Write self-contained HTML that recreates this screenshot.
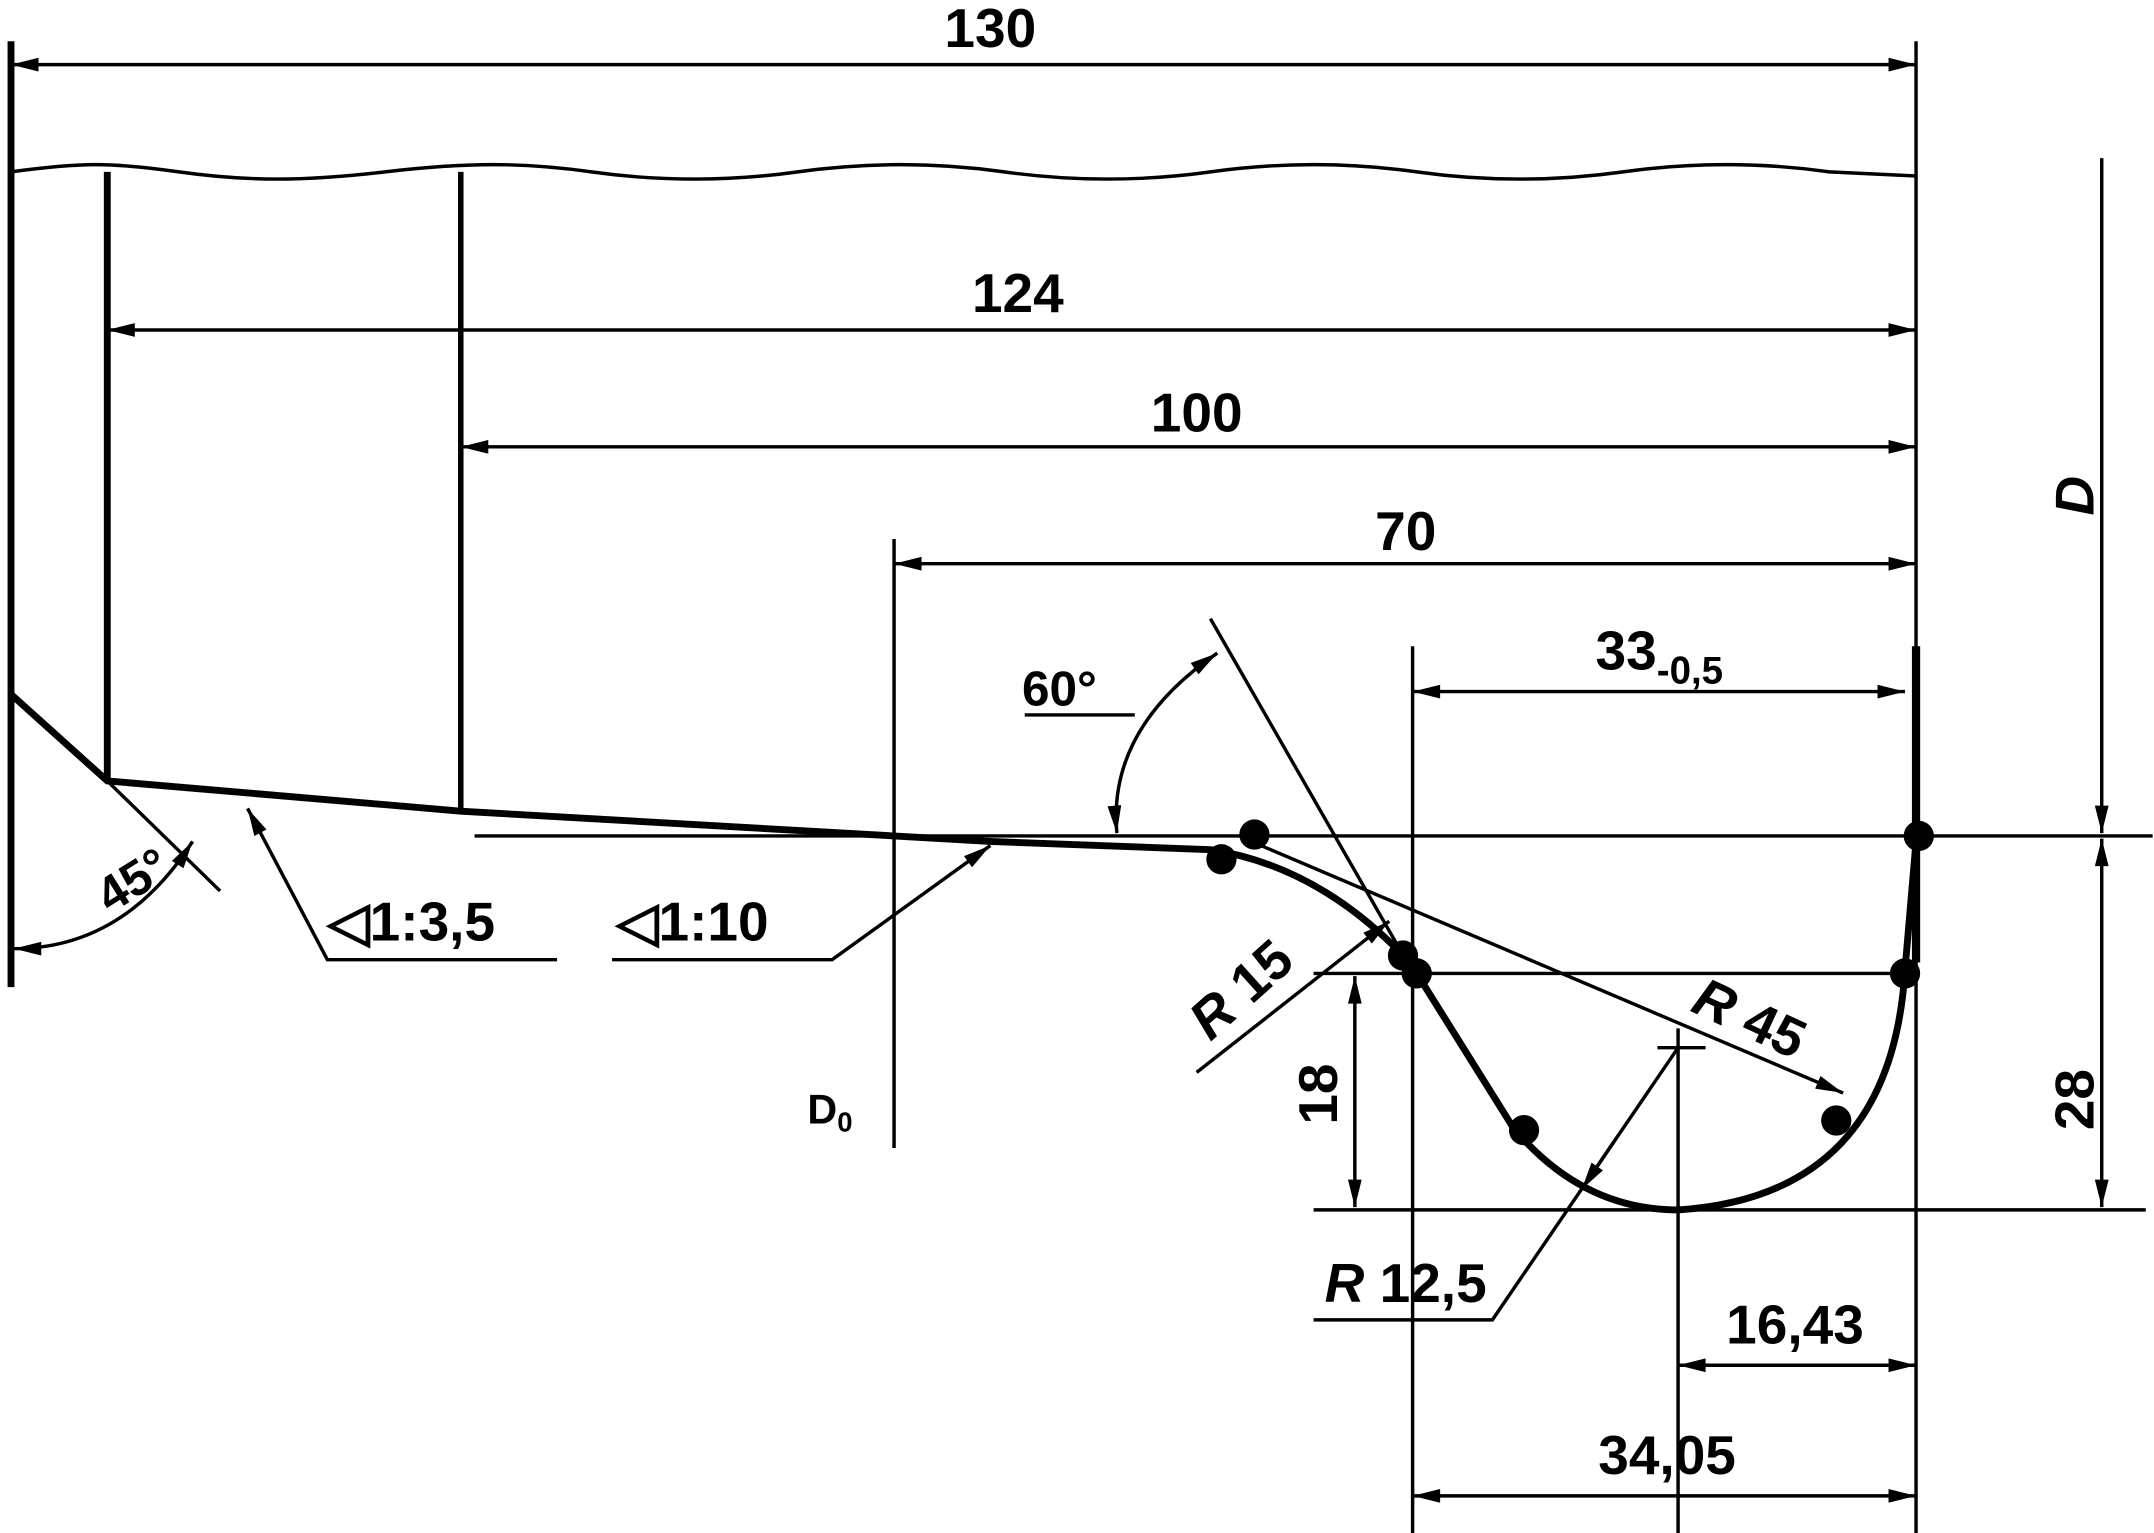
<!DOCTYPE html>
<html><head><meta charset="utf-8"><style>
html,body{margin:0;padding:0;background:#fff;}
svg{display:block;}
text{font-family:"Liberation Sans",sans-serif;font-weight:bold;fill:#000;}
</style></head><body>
<svg width="2154" height="1533" viewBox="0 0 1566 1115" preserveAspectRatio="none" xmlns="http://www.w3.org/2000/svg">
<defs>
<marker id="a" viewBox="0 0 20 10" refX="20" refY="5" markerWidth="22" markerHeight="10" markerUnits="userSpaceOnUse" orient="auto-start-reverse"><path d="M0,0 L20,5 L0,10 z" fill="#000"/></marker>
</defs>
<g stroke="#000" fill="none" stroke-width="2.5">
<line x1="8" y1="30" x2="8" y2="718" stroke-width="5"/>
<line x1="1393" y1="30" x2="1393" y2="1115"/>
<line x1="78" y1="125" x2="78" y2="568" stroke-width="5"/>
<line x1="335" y1="125" x2="335" y2="590" stroke-width="4"/>
<line x1="650" y1="392" x2="650" y2="835"/>
<line x1="1027" y1="470" x2="1027" y2="1115"/>
<line x1="1220" y1="748" x2="1220" y2="1115"/>
<line x1="1205" y1="762" x2="1240" y2="762"/>
<line x1="1393" y1="470" x2="1393" y2="700" stroke-width="6"/>
<path d="M8,125 C60,118 80,118 130,125 S220,132 280,125 S380,118 430,125 S530,132 580,125 S680,118 730,125 S830,132 880,125 S980,118 1030,125 S1130,132 1180,125 S1280,118 1330,125 L1393,128"/>
<line x1="8" y1="47" x2="1393" y2="47" marker-start="url(#a)" marker-end="url(#a)"/>
<line x1="78" y1="240" x2="1393" y2="240" marker-start="url(#a)" marker-end="url(#a)"/>
<line x1="335" y1="325" x2="1393" y2="325" marker-start="url(#a)" marker-end="url(#a)"/>
<line x1="650" y1="410" x2="1393" y2="410" marker-start="url(#a)" marker-end="url(#a)"/>
<line x1="1027" y1="503" x2="1385" y2="503" marker-start="url(#a)" marker-end="url(#a)"/>
<line x1="1528" y1="115" x2="1528" y2="606" marker-end="url(#a)"/>
<line x1="1528" y1="610" x2="1528" y2="878" marker-start="url(#a)" marker-end="url(#a)"/>
<line x1="985" y1="710" x2="985" y2="878" marker-start="url(#a)" marker-end="url(#a)"/>
<line x1="1220" y1="993" x2="1393" y2="993" marker-start="url(#a)" marker-end="url(#a)"/>
<line x1="1027" y1="1088" x2="1393" y2="1088" marker-start="url(#a)" marker-end="url(#a)"/>
<line x1="345" y1="608" x2="1565" y2="608"/>
<line x1="955" y1="708" x2="1395" y2="708"/>
<line x1="955" y1="880" x2="1560" y2="880"/>
<path d="M8,505 L78,568 L335,590 L720,612 L880,618 Q960,630 1025,700 L1100,820 Q1150,880 1220,880 Q1375,870 1385,705 L1393,612" stroke-width="5"/>
<line x1="880" y1="450" x2="1030" y2="712"/>
<line x1="905" y1="610" x2="1340" y2="795" marker-end="url(#a)"/>
<path d="M812,606 Q805,530 885,475" marker-start="url(#a)" marker-end="url(#a)"/>
<line x1="745" y1="520" x2="825" y2="520"/>
<line x1="78" y1="568" x2="160" y2="648"/>
<path d="M10,690 Q90,690 140,612" marker-start="url(#a)" marker-end="url(#a)"/>
<polyline points="405,698 238,698 180,588" marker-end="url(#a)"/>
<polyline points="445,698 605,698 720,615" marker-end="url(#a)"/>
<line x1="870" y1="780" x2="1010" y2="670" marker-end="url(#a)"/>
<polyline points="955,960 1085,960 1220,762" />
<line x1="1175" y1="828" x2="1150" y2="865" marker-end="url(#a)"/>
</g>
<g fill="#000">
<circle cx="912" cy="607" r="11"/><circle cx="888" cy="625" r="11"/>
<circle cx="1020" cy="695" r="11"/><circle cx="1030" cy="708" r="11"/>
<circle cx="1108" cy="822" r="11"/><circle cx="1335" cy="815" r="11"/>
<circle cx="1385" cy="708" r="11"/><circle cx="1395" cy="608" r="11"/>
</g>
<g font-size="40">
<text x="720" y="34" text-anchor="middle">130</text>
<text x="740" y="227" text-anchor="middle">124</text>
<text x="870" y="314" text-anchor="middle">100</text>
<text x="1022" y="400" text-anchor="middle">70</text>
<text x="1160" y="487">33<tspan font-size="28" dy="10">-0,5</tspan></text>
<text x="1305" y="977" text-anchor="middle">16,43</text>
<text x="1212" y="1072" text-anchor="middle">34,05</text>
<text x="743" y="513" font-size="36">60°</text>
<text x="238" y="684">◁1:3,5</text>
<text x="448" y="684">◁1:10</text>
<text x="963" y="947"><tspan font-style="italic">R</tspan> 12,5</text>
<text transform="translate(80,665) rotate(-32)" font-size="36">45°</text>
<text transform="translate(880,758) rotate(-42)"><tspan font-style="italic">R</tspan> 15</text>
<text transform="translate(1228,735) rotate(25)"><tspan font-style="italic">R</tspan> 45</text>
<text transform="translate(1522,375) rotate(-90)" font-style="italic">D</text>
<text transform="translate(1522,822) rotate(-90)">28</text>
<text transform="translate(972,818) rotate(-90)">18</text>
<text x="587" y="817" font-weight="normal" font-size="30">D<tspan font-size="20" dy="6">0</tspan></text>
</g>
</svg>
</body></html>
